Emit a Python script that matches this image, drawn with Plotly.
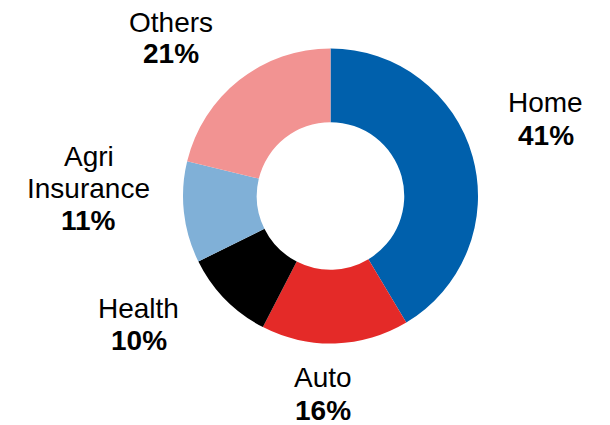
import plotly.graph_objects as go

categories = ["Home", "Auto", "Health", "Agri Insurance", "Others"]
label_lines = [["Home"], ["Auto"], ["Health"], ["Agri", "Insurance"], ["Others"]]
values = [41, 16, 10, 11, 21]
colors = ["#0060AC", "#E42A28", "#000000", "#80B0D7", "#F29392"]

# label layout in page pixels: (center x, list of line-center y's; last one is the percent)
label_pos = [
    (545.5, [102.3, 135.8]),
    (323.4, [377.8, 410.0]),
    (138.8, [308.3, 340.0]),
    (88.8, [156.7, 188.8, 220.3]),
    (171.3, [22.5, 53.3]),
]

OFF = 8  # page body margin
W, H = 610, 425
cx, cy, r = 330.5 - OFF, 196 - OFF, 147.5

fig = go.Figure(go.Pie(
    labels=categories, values=values, hole=0.5, sort=False, direction="clockwise",
    rotation=0, marker=dict(colors=colors, line=dict(width=0)),
    textinfo="none", hoverinfo="label+percent", showlegend=False,
    domain=dict(x=[(cx - r) / W, (cx + r) / W], y=[(H - cy - r) / H, (H - cy + r) / H]),
))

font_family = "Liberation Sans, Arial, sans-serif"
for lines, v, (px, ys) in zip(label_lines, values, label_pos):
    texts = lines + [f"<b>{v}%</b>"]
    for t, py in zip(texts, ys):
        fig.add_annotation(
            x=(px - OFF) / W, y=1 - (py - OFF) / H, xref="paper", yref="paper",
            text=t, showarrow=False, xanchor="center", yanchor="middle",
            font=dict(family=font_family, size=28, color="#000000"),
        )

fig.update_layout(
    width=W, height=H, margin=dict(l=0, r=0, t=0, b=0),
    paper_bgcolor="white", plot_bgcolor="white",
)
fig.write_html("out.html")
